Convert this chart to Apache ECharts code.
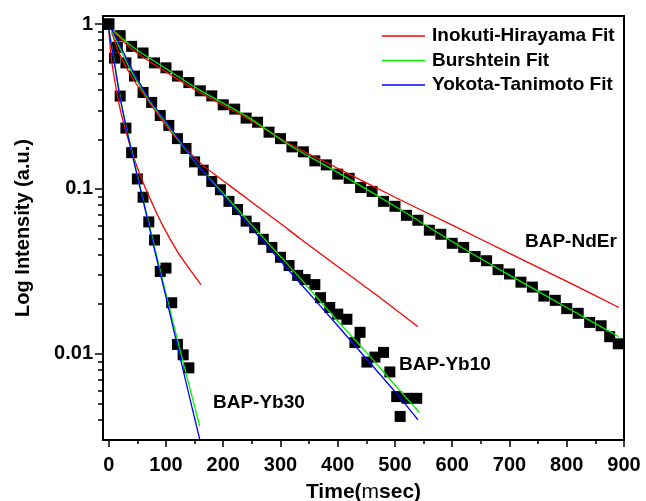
<!DOCTYPE html>
<html><head><meta charset="utf-8">
<script src="https://cdn.jsdelivr.net/npm/echarts@6/dist/echarts.min.js"></script>
<style>html,body{margin:0;padding:0;background:#fff}#c{width:646px;height:501px}</style>
</head><body><div id="c"></div>
<script>
// ---- data (time in msec, intensity normalised) ----
const ndErTime  = [0,20,40,60,80,100,120,140,160,180,200,220,240,260,280,300,320,340,360,380,400,420,440,460,480,500,520,540,560,580,600,620,640,660,680,700,720,740,760,780,800,820,840,860,875,890];
const ndErValue = [1.00,0.851,0.733,0.668,0.582,0.543,0.484,0.442,0.394,0.367,0.324,0.305,0.269,0.254,0.221,0.202,0.180,0.168,0.148,0.140,0.123,0.116,0.102,0.0966,0.0841,0.0785,0.0692,0.0646,0.0562,0.0531,0.0468,0.0442,0.0389,0.0367,0.0324,0.0305,0.0272,0.0254,0.0224,0.0211,0.0188,0.0176,0.0155,0.0148,0.0127,0.0115];

const yb10Time  = [0,15,30,45,60,75,90,105,120,135,150,165,180,195,210,225,240,255,270,285,300,315,330,343,360,370,386,400,416,430,439,451,465,480,491,503,509,521,538];
const yb10Value = [1.00,0.724,0.582,0.484,0.385,0.335,0.279,0.243,0.202,0.176,0.146,0.130,0.111,0.0989,0.0841,0.0750,0.0638,0.0582,0.0495,0.0442,0.0385,0.0343,0.0299,0.0282,0.0263,0.0219,0.0191,0.0174,0.0162,0.0117,0.0135,0.00891,0.00955,0.0102,0.00776,0.00550,0.00417,0.00537,0.00537];

const yb30Time  = [0,10,20,30,40,50,60,70,80,90,100,110,120,130,140];
const yb30Value = [1.00,0.622,0.366,0.234,0.166,0.115,0.0891,0.0631,0.0490,0.0316,0.0331,0.0204,0.0114,0.00986,0.00822];

// Inokuti-Hirayama fits (red)
const ihNdErTime  = [7,42,100,159,246,316,400,500,600,700,800,891];
const ihNdErValue = [0.912,0.700,0.513,0.385,0.263,0.1875,0.1334,0.0891,0.0603,0.0407,0.0275,0.0191];
const ihYb10Time  = [5,20,42,70,110,159,200,246,300,334,400,470,540];
const ihYb10Value = [0.891,0.646,0.468,0.339,0.219,0.1445,0.1122,0.0851,0.0617,0.0501,0.0339,0.0224,0.0146];
const ihYb30Time  = [0,5,10,19,30,45,60,75,94,120,140,161];
const ihYb30Value = [0.933,0.603,0.468,0.316,0.224,0.151,0.1096,0.0832,0.0603,0.0417,0.0331,0.0263];

// Burshtein fits (green)
const buNdErTime  = [7,42,100,159,246,316,400,500,619,700,800,891];
const buNdErValue = [0.920,0.726,0.537,0.398,0.269,0.184,0.126,0.0785,0.0437,0.0300,0.0191,0.0127];
const buYb10Time  = [5,20,40,70,100,155,200,250,300,334,400,450,500,543];
const buYb10Value = [0.912,0.708,0.513,0.347,0.251,0.140,0.0940,0.0603,0.0389,0.0288,0.0158,0.0102,0.00646,0.00439];
const buYb30Time  = [0,10,20,30,45,60,80,101,130,159];
const buYb30Value = [0.933,0.589,0.363,0.245,0.1445,0.0871,0.0447,0.0224,0.00891,0.00363];

// Yokota-Tanimoto fits (blue)
const ytYb10Time  = [5,20,40,70,100,155,200,250,334,400,450,500,540];
const ytYb10Value = [0.933,0.741,0.537,0.355,0.257,0.141,0.0912,0.0575,0.0269,0.0148,0.00933,0.00589,0.00398];
const ytYb30Time  = [0,10,20,30,45,60,80,101,130,159];
const ytYb30Value = [0.933,0.575,0.355,0.240,0.141,0.0851,0.0427,0.0214,0.00794,0.00302];

// axis ranges and ticks
const xRange = [-10, 900];
const yRange = [0.003, 1.12];
const xMajorTicks = [0,100,200,300,400,500,600,700,800,900];
const xMinorTicks = [50,150,250,350,450,550,650,750,850];
const yMajorTicks = [0.01,0.1,1];
const yTickLabels = ['0.01','0.1','1'];
const yMinorTicks = [0.004,0.005,0.006,0.007,0.008,0.009,0.02,0.03,0.04,0.05,0.06,0.07,0.08,0.09,0.2,0.3,0.4,0.5,0.6,0.7,0.8,0.9];

const seriesNames = ['Inokuti-Hirayama Fit','Burshtein Fit','Yokota-Tanimoto Fit'];
const sampleLabels = ['BAP-NdEr','BAP-Yb10','BAP-Yb30'];

// ---- build ----
const pair = (t, v) => t.map((x, i) => [x, v[i]]);
const FONT = '"Liberation Sans", Arial, Helvetica, sans-serif';
const lg = v => Math.log10(v);

function scatter(t, v) {
  return { type: 'scatter', data: pair(t, v), symbol: 'rect', symbolSize: 11,
    itemStyle: { color: '#000', opacity: 1 }, silent: true, z: 2, clip: false };
}
function fit(name, color, t, v) {
  return { type: 'line', name, data: pair(t, v), symbol: 'none', showSymbol: false, smooth: 0.3,
    lineStyle: { color, width: 1.3 }, itemStyle: { color }, silent: true, z: 5 };
}

const chart = echarts.init(document.getElementById('c'), null, { renderer: 'canvas' });
chart.setOption({
  animation: false,
  backgroundColor: '#fff',
  textStyle: { fontFamily: FONT },
  grid: { left: 103, right: 22, top: 16, bottom: 61, containLabel: false, outerBoundsMode: 'none',
    show: true, borderColor: '#000', borderWidth: 2, backgroundColor: 'transparent' },
  legend: {
    data: seriesNames, orient: 'vertical', left: 382, top: 26, padding: 0,
    icon: 'rect', itemWidth: 43, itemHeight: 1.5, itemGap: 4.5,
    textStyle: { fontFamily: FONT, fontWeight: 'bold', fontSize: 19, color: '#000', lineHeight: 20, padding: [0, 0, 0, 2] }
  },
  xAxis: [{
    type: 'value', min: xRange[0], max: xRange[1],
    axisLine: { show: true, onZero: false, lineStyle: { color: '#000', width: 2 } },
    axisTick: { show: true, inside: false, length: 7, lineStyle: { color: '#000', width: 1.5 }, customValues: xMajorTicks },
    axisLabel: { customValues: xMajorTicks, fontFamily: FONT, fontWeight: 'bold', fontSize: 20, color: '#000', margin: 15 },
    splitLine: { show: false },
    name: '{b|Time(}{n|m}{b|sec)}', nameLocation: 'middle', nameGap: 42,
    nameTextStyle: { rich: {
      b: { fontFamily: FONT, fontWeight: 'bold', fontSize: 21, color: '#000' },
      n: { fontFamily: FONT, fontWeight: 'normal', fontSize: 21, color: '#000' } } }
  }, {
    type: 'value', min: xRange[0], max: xRange[1], position: 'bottom',
    axisLine: { show: false, onZero: false },
    axisTick: { show: true, inside: false, length: 4, lineStyle: { color: '#000', width: 1.5 }, customValues: xMinorTicks },
    axisLabel: { show: false }, splitLine: { show: false }
  }],
  yAxis: [{
    // data axis (logarithmic)
    type: 'log', logBase: 10, min: yRange[0], max: yRange[1],
    axisLine: { show: true, onZero: false, lineStyle: { color: '#000', width: 2 } },
    axisTick: { show: false }, axisLabel: { show: false },
    splitLine: { show: false }, minorTick: { show: false },
    name: 'Log Intensity (a.u.)', nameLocation: 'middle', nameGap: 70, nameRotate: 90,
    nameTextStyle: { fontFamily: FONT, fontWeight: 'bold', fontSize: 20, color: '#000' }
  }, {
    // decade ticks + labels, in log10 space
    type: 'value', min: lg(yRange[0]), max: lg(yRange[1]), position: 'left',
    axisLine: { show: false, onZero: false },
    axisTick: { show: true, inside: false, length: 8, lineStyle: { color: '#000', width: 1.5 }, customValues: yMajorTicks.map(lg) },
    axisLabel: { customValues: yMajorTicks.map(lg), fontFamily: FONT, fontWeight: 'bold', fontSize: 20, color: '#000', margin: 10,
      formatter: v => { const i = yMajorTicks.findIndex(m => Math.abs(lg(m) - v) < 1e-6); return i >= 0 ? yTickLabels[i] : ''; } },
    splitLine: { show: false }
  }, {
    // minor ticks 2..9 of each decade
    type: 'value', min: lg(yRange[0]), max: lg(yRange[1]), position: 'left',
    axisLine: { show: false, onZero: false },
    axisTick: { show: true, inside: false, length: 5, lineStyle: { color: '#000', width: 1.5 }, customValues: yMinorTicks.map(lg) },
    axisLabel: { show: false }, splitLine: { show: false }
  }],
  series: [
    scatter(ndErTime, ndErValue),
    scatter(yb10Time, yb10Value),
    scatter(yb30Time, yb30Value),
    fit(seriesNames[0], '#ff0000', ihNdErTime, ihNdErValue),
    fit(seriesNames[0], '#ff0000', ihYb10Time, ihYb10Value),
    fit(seriesNames[0], '#ff0000', ihYb30Time, ihYb30Value),
    fit(seriesNames[1], '#00ee00', buNdErTime, buNdErValue),
    fit(seriesNames[1], '#00ee00', buYb10Time, buYb10Value),
    fit(seriesNames[1], '#00ee00', buYb30Time, buYb30Value),
    fit(seriesNames[2], '#0000ff', ytYb10Time, ytYb10Value),
    fit(seriesNames[2], '#0000ff', ytYb30Time, ytYb30Value)
  ],
  graphic: [
    { type: 'text', left: 525, top: 232, style: { text: sampleLabels[0], font: 'bold 19px ' + FONT, fill: '#000' } },
    { type: 'text', left: 399, top: 355, style: { text: sampleLabels[1], font: 'bold 19px ' + FONT, fill: '#000' } },
    { type: 'text', left: 213, top: 393, style: { text: sampleLabels[2], font: 'bold 19px ' + FONT, fill: '#000' } }
  ]
});
</script>
</body></html>
